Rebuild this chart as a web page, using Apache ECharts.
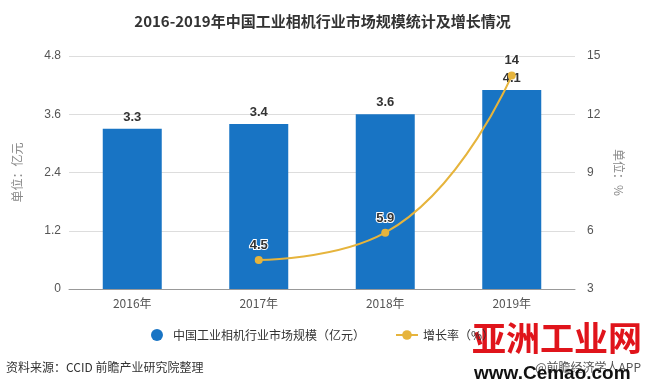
<!DOCTYPE html>
<html><head><meta charset="utf-8">
<script src="https://cdn.jsdelivr.net/npm/echarts@6/dist/echarts.min.js"></script>
<style>html,body{margin:0;padding:0;background:#fff}#c{width:645px;height:389px}</style>
</head><body><div id="c"></div>
<script>
const categories = ['2016年', '2017年', '2018年', '2019年'];
const marketSize = [3.3, 3.4, 3.6, 4.1];
const growthRate = [null, 4.5, 5.9, 14];
const leftTicks = {min: 0, max: 4.8, interval: 1.2};
const rightTicks = {min: 3, max: 15, interval: 3};
const titleText = '2016-2019年中国工业相机行业市场规模统计及增长情况';
const seriesNames = ['中国工业相机行业市场规模（亿元）', '增长率（%）'];
const sourceText = '资料来源：CCID 前瞻产业研究院整理';
const creditText = '@前瞻经济学人APP';

const chart = echarts.init(document.getElementById('c'));
const font = '"Microsoft YaHei","Noto Sans CJK SC",sans-serif';
chart.setOption({
  animation: false,
  title: {text: titleText, left: 'center', top: 9,
    textStyle: {fontSize: 15, fontWeight: 'bold', color: '#333', fontFamily: font}},
  grid: {left: 69, right: 70, top: 56, bottom: 100},
  legend: {bottom: 43, left: 'center', itemGap: 30, itemWidth: 22, itemHeight: 12,
    textStyle: {fontSize: 12, color: '#333', fontFamily: font},
    data: [{name: seriesNames[0], icon: 'circle'}, {name: seriesNames[1]}]},
  xAxis: {type: 'category', data: categories,
    axisLine: {lineStyle: {color: '#999'}},
    axisTick: {alignWithLabel: true, lineStyle: {color: '#999'}},
    axisLabel: {color: '#555', fontSize: 12, fontFamily: font, margin: 8}},
  yAxis: [
    {type: 'value', min: leftTicks.min, max: leftTicks.max, interval: leftTicks.interval,
      name: '单位：亿元', nameLocation: 'middle', nameGap: 46, nameRotate: 90,
      nameTextStyle: {color: '#888', fontSize: 12, fontFamily: font},
      axisLine: {show: false}, axisTick: {show: false},
      axisLabel: {color: '#555', fontSize: 12, formatter: v => v === 0 ? '0' : v.toFixed(1)},
      splitLine: {lineStyle: {color: '#ddd'}}},
    {type: 'value', min: rightTicks.min, max: rightTicks.max, interval: rightTicks.interval,
      name: '单位：%', nameLocation: 'middle', nameGap: 38, nameRotate: -90,
      nameTextStyle: {color: '#888', fontSize: 12, fontFamily: font},
      axisLine: {show: false}, axisTick: {show: false},
      axisLabel: {color: '#555', fontSize: 12, margin: 12},
      splitLine: {show: false}}
  ],
  series: [
    {name: seriesNames[0], type: 'bar', data: marketSize, barWidth: 59,
      itemStyle: {color: '#1874c4'},
      label: {show: true, position: 'top', distance: 5, color: '#333', fontWeight: 'bold', fontSize: 13}},
    {name: seriesNames[1], type: 'line', yAxisIndex: 1, data: growthRate, smooth: true,
      symbol: 'circle', symbolSize: 8, connectNulls: false,
      lineStyle: {color: '#e6b43c', width: 2},
      itemStyle: {color: '#e6b43c'},
      label: {show: true, position: 'top', distance: 4, color: '#333', fontWeight: 'bold', fontSize: 13,
        textBorderColor: '#fff', textBorderWidth: 2}}
  ],
  graphic: [
    {type: 'text', left: 6, top: 361, style: {text: sourceText, fill: '#333', fontSize: 12, fontFamily: font}},
    {type: 'text', right: 4, top: 361, style: {text: creditText, fill: '#555', fontSize: 12, fontFamily: font}},
    {type: 'text', left: 472, top: 321, style: {text: '亚洲工业网', fill: '#e0141b', fontSize: 34, fontWeight: 'bold', fontFamily: font}},
    {type: 'text', left: 474, top: 364, style: {text: 'www.Cemao.com', fill: '#111', fontSize: 19, fontWeight: 'bold', fontFamily: 'Arial, "Liberation Sans", sans-serif'}}
  ]
});
</script></body></html>
